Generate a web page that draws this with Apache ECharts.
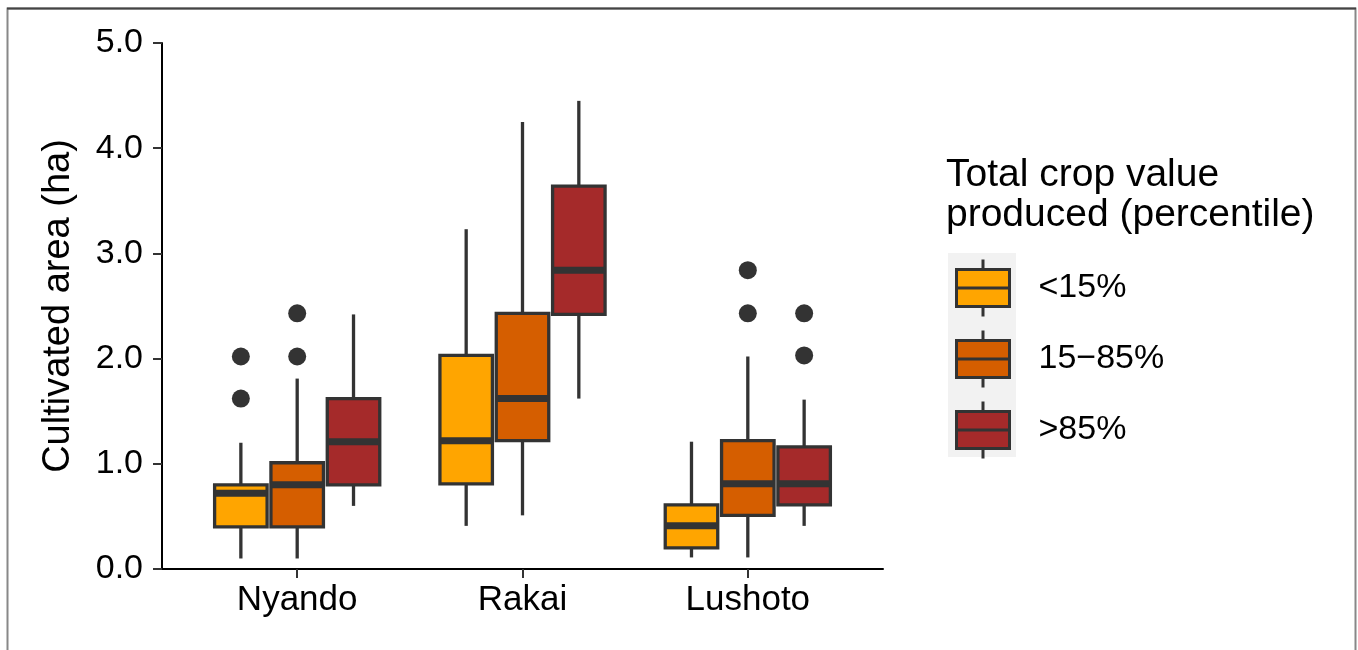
<!DOCTYPE html>
<html><head><meta charset="utf-8">
<script src="https://cdn.jsdelivr.net/npm/echarts@6/dist/echarts.min.js"></script>
<style>html,body{margin:0;padding:0;background:#fff}#c{width:1358px;height:650px}</style>
</head><body><div id="c"></div>
<script>
const categories = ['Nyando', 'Rakai', 'Lushoto'];
const groups = ['<15%', '15\u221285%', '>85%'];
const colors = ['#FFA500', '#D55E00', '#A52A2A'];
const yTicks = [0, 1, 2, 3, 4, 5];
// [whiskerLow, Q1, median, Q3, whiskerHigh] for Nyando, Rakai, Lushoto
const boxLow  = [[0.10, 0.40, 0.72, 0.80, 1.20], [0.41, 0.81, 1.22, 2.03, 3.23], [0.11, 0.20, 0.41, 0.61, 1.21]];
const boxMid  = [[0.10, 0.40, 0.80, 1.01, 1.81], [0.51, 1.22, 1.62, 2.43, 4.25], [0.11, 0.51, 0.81, 1.22, 2.02]];
const boxHigh = [[0.60, 0.80, 1.21, 1.62, 2.42], [1.62, 2.42, 2.84, 3.64, 4.45], [0.41, 0.61, 0.81, 1.16, 1.61]];
// outliers: [categoryIndex, value]
const outLow  = [[0, 2.02], [0, 1.62]];
const outMid  = [[0, 2.02], [0, 2.43], [2, 2.84], [2, 2.43]];
const outHigh = [[2, 2.43], [2, 2.03]];

const boxSets = [boxLow, boxMid, boxHigh];
const outSets = [outLow, outMid, outHigh];
const FONT = '"Liberation Sans", Arial, Helvetica, sans-serif';
const DODGE = 0.25, BOX_W = 0.233, LW = 3.3, MW = 7, DARK = '#333333';

function boxRender(g) {
  return function (params, api) {
    const xc = api.value(0) + 1 + (g - 1) * DODGE;
    const pMin = api.coord([xc, api.value(1)]);
    const pQ1 = api.coord([xc, api.value(2)]);
    const pMed = api.coord([xc, api.value(3)]);
    const pQ3 = api.coord([xc, api.value(4)]);
    const pMax = api.coord([xc, api.value(5)]);
    const half = api.size([BOX_W, 0])[0] / 2;
    const x = pMin[0];
    const ls = { stroke: DARK, lineWidth: LW };
    return { type: 'group', children: [
      { type: 'line', shape: { x1: x, y1: pQ3[1], x2: x, y2: pMax[1] }, style: ls },
      { type: 'line', shape: { x1: x, y1: pMin[1], x2: x, y2: pQ1[1] }, style: ls },
      { type: 'rect', shape: { x: x - half, y: pQ3[1], width: 2 * half, height: pQ1[1] - pQ3[1] },
        style: { fill: api.visual('color'), stroke: DARK, lineWidth: LW } },
      { type: 'line', shape: { x1: x - half, y1: pMed[1], x2: x + half, y2: pMed[1] },
        style: { stroke: DARK, lineWidth: MW } }
    ]};
  };
}
function outRender(g) {
  return function (params, api) {
    const p = api.coord([api.value(0) + 1 + (g - 1) * DODGE, api.value(1)]);
    return { type: 'circle', shape: { cx: p[0], cy: p[1], r: 9 }, style: { fill: DARK } };
  };
}

const series = [];
groups.forEach(function (name, g) {
  series.push({
    type: 'custom', name: name, renderItem: boxRender(g),
    itemStyle: { color: colors[g], borderColor: DARK, borderWidth: 3 },
    encode: { x: 0, y: [1, 2, 3, 4, 5] },
    data: boxSets[g].map(function (b, i) { return [i].concat(b); }),
    silent: true
  });
});
groups.forEach(function (name, g) {
  series.push({
    type: 'custom', name: 'outliers ' + name, renderItem: outRender(g),
    encode: { x: 0, y: 1 }, data: outSets[g], silent: true
  });
});

const chart = echarts.init(document.getElementById('c'));
chart.setOption({
  animation: false,
  backgroundColor: '#ffffff',
  textStyle: { fontFamily: FONT },
  grid: { left: 162, right: 475, top: 43, bottom: 81 },
  title: {
    text: 'Total crop value\nproduced (percentile)', left: 946, top: 155, padding: 0,
    textStyle: { fontFamily: FONT, fontSize: 39, fontWeight: 'normal', color: '#000', lineHeight: 40 }
  },
  legend: {
    orient: 'vertical', left: 955, top: 258, padding: 0, itemWidth: 53, itemHeight: 57, itemGap: 11,
    selectedMode: false, data: groups,
    icon: 'path://M26.5,0L26.5,10M0,10L53,10L53,47L0,47ZM0,28.5L53,28.5M26.5,47L26.5,57',
    itemStyle: { borderColor: DARK, borderWidth: 3 },
    textStyle: { fontFamily: FONT, fontSize: 34, color: '#000', padding: [0, 0, 0, 24] }
  },
  graphic: [
    { type: 'rect', left: 948, top: 253, z: 0, shape: { width: 68, height: 204 }, style: { fill: '#F2F2F2' } },
    { type: 'polyline', z: 0, shape: { points: [[7.5, 650], [7.5, 8.5], [1355.5, 8.5], [1355.5, 650]] },
      style: { stroke: '#888', lineWidth: 2, fill: null } },
    { type: 'line', z: 1, shape: { x1: 7, y1: 8.5, x2: 1356, y2: 8.5 }, style: { stroke: '#444', lineWidth: 2 } }
  ],
  xAxis: {
    type: 'value', min: 0.4, max: 3.6,
    axisLine: { show: true, lineStyle: { color: '#000', width: 2 } },
    axisTick: { show: true, customValues: [1, 2, 3], length: 9, lineStyle: { color: DARK, width: 2 } },
    axisLabel: { customValues: [1, 2, 3], formatter: function (v) { return categories[Math.round(v) - 1]; },
      fontFamily: FONT, fontSize: 35, color: '#000', margin: 14 },
    splitLine: { show: false }
  },
  yAxis: {
    type: 'value', min: yTicks[0], max: yTicks[yTicks.length - 1], interval: 1,
    name: 'Cultivated area (ha)', nameLocation: 'middle', nameGap: 84,
    nameTextStyle: { fontFamily: FONT, fontSize: 38, color: '#000' },
    axisLine: { show: true, lineStyle: { color: '#000', width: 2 } },
    axisTick: { show: true, length: 9, lineStyle: { color: DARK, width: 2 } },
    axisLabel: { formatter: function (v) { return v.toFixed(1); }, fontFamily: FONT, fontSize: 34, color: '#000', margin: 19 },
    splitLine: { show: false }
  },
  series: series
});
</script></body></html>
